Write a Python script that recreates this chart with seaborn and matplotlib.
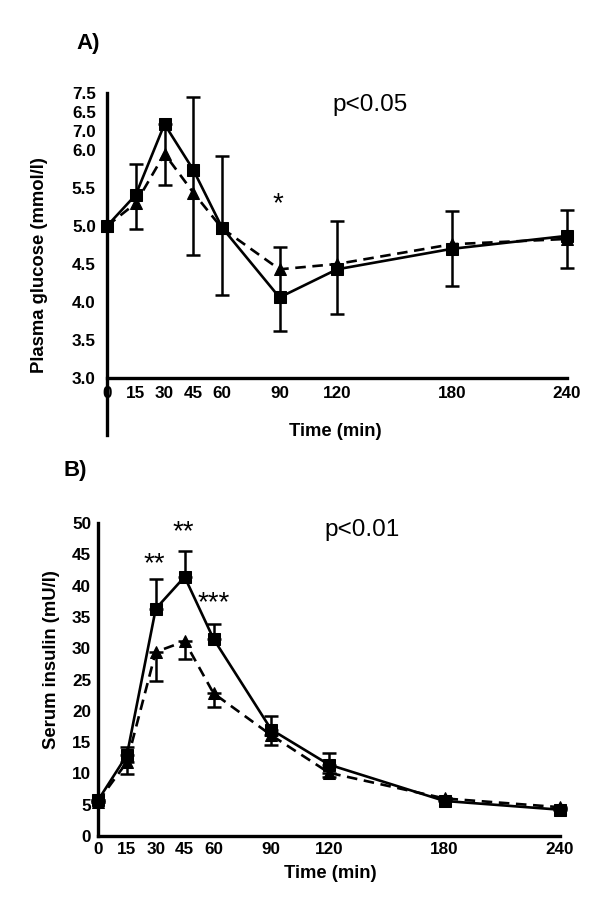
import numpy as np
import pandas as pd
import matplotlib
matplotlib.use("Agg")
import matplotlib.pyplot as plt
import seaborn as sns

sns.set_theme(style="white")
plt.rcParams['font.family'] = ['Liberation Sans', 'DejaVu Sans']
plt.rcParams['text.color'] = 'black'
plt.rcParams['axes.labelcolor'] = 'black'
plt.rcParams['xtick.color'] = 'black'
plt.rcParams['ytick.color'] = 'black'

# ---------------- data ----------------
time = [0, 15, 30, 45, 60, 90, 120, 180, 240]
x_ticks = [0, 15, 30, 45, 60, 90, 120, 180, 240]

# Panel A: plasma glucose (axis coordinates as drawn)
glu_square = [5.00, 5.41, 6.34, 5.74, 4.98, 4.06, 4.43, 4.70, 4.87]
glu_triangle = [5.00, 5.30, 5.95, 5.44, 4.97, 4.43, 4.50, 4.76, 4.83]
glu_bar_lo = [np.nan, 4.96, 5.54, 4.62, 4.09, 3.62, 3.84, 4.21, 4.45]
glu_bar_hi = [np.nan, 5.82, 6.34, 6.70, 5.92, 4.72, 5.07, 5.20, 5.21]
glu_tick_pos = [3.0, 3.5, 4.0, 4.5, 5.0, 5.5, 6.0, 6.25, 6.5, 6.75]
glu_tick_lab = ["3.0", "3.5", "4.0", "4.5", "5.0", "5.5", "6.0", "7.0", "6.5", "7.5"]

# Panel B: serum insulin
ins_square = [5.7, 12.9, 36.3, 41.4, 31.5, 17.0, 11.4, 5.6, 4.2]
ins_triangle = [5.5, 11.8, 29.4, 31.1, 22.8, 16.1, 10.1, 6.0, 4.6]
ins_square_up = [0.0, 1.3, 4.7, 4.1, 2.4, 2.2, 1.8, 0.4, 0.3]
ins_triangle_dn = [0.0, 1.9, 4.6, 2.8, 2.2, 1.6, 0.6, 0.3, 0.3]
ins_ticks = [0, 5, 10, 15, 20, 25, 30, 35, 40, 45, 50]

# ---------------- figure ----------------
W, H = 600, 910
fig = plt.figure(figsize=(6, 9.1), dpi=100)

def px_axes(left, right, top, bottom):
    return fig.add_axes([left / W, 1 - bottom / H, (right - left) / W, (bottom - top) / H])

LW = 2.4
TICK_FS = 12.3
LABEL_FS = 13.3
ax1 = px_axes(107, 567, 93, 435)
ax2 = px_axes(98, 560, 523, 836)

# ---- Panel A ----
dfA = pd.DataFrame({"time": time * 2,
                    "value": glu_square + glu_triangle,
                    "group": ["sq"] * len(time) + ["tri"] * len(time)})
ax1.errorbar(time, [(a + b) / 2 for a, b in zip(glu_bar_lo, glu_bar_hi)],
             yerr=[(b - a) / 2 for a, b in zip(glu_bar_lo, glu_bar_hi)],
             fmt="none", ecolor="black", elinewidth=1.8, capsize=5, capthick=1.8,
             clip_on=False, zorder=2)
sns.lineplot(data=dfA[dfA.group == "tri"], x="time", y="value", ax=ax1, color="black",
             linestyle=(0, (4, 2.5)), linewidth=1.9, marker="^", markersize=8,
             markeredgecolor="black", errorbar=None, clip_on=False, zorder=3)
sns.lineplot(data=dfA[dfA.group == "sq"], x="time", y="value", ax=ax1, color="black",
             linestyle="-", linewidth=1.9, marker="s", markersize=9,
             markeredgecolor="black", errorbar=None, clip_on=False, zorder=4)

ax1.set_xlim(0, 240)
ax1.set_ylim(2.25, 6.75)
ax1.spines["top"].set_visible(False)
ax1.spines["right"].set_visible(False)
ax1.spines["bottom"].set_position(("data", 3.0))
for s in ("left", "bottom"):
    ax1.spines[s].set_linewidth(LW)
    ax1.spines[s].set_color("black")
ax1.set_xticks(x_ticks)
ax1.set_xticklabels([str(t) for t in x_ticks])
ax1.set_yticks(glu_tick_pos)
ax1.set_yticklabels(glu_tick_lab)
ax1.tick_params(axis="x", direction="in", length=7, width=LW, pad=6, labelsize=TICK_FS)
ax1.tick_params(axis="y", direction="inout", length=10, width=LW, pad=3, labelsize=TICK_FS)
for lab in ax1.get_xticklabels() + ax1.get_yticklabels():
    lab.set_fontweight("bold")
ax1.set_xlabel("Time (min)", fontsize=LABEL_FS, fontweight="bold")
ax1.xaxis.set_label_coords((335 - 107) / 460, 1 - (423 - 93) / 342)
ax1.set_ylabel("Plasma glucose (mmol/l)", fontsize=LABEL_FS, fontweight="bold")
ax1.yaxis.set_label_coords((48 - 107) / 460, 1 - (265 - 93) / 342)
ax1.grid(False)

fig.text(88 / W, 1 - 44 / H, "A)", fontsize=16, fontweight="bold", ha="center", va="center")
fig.text(370 / W, 1 - 105 / H, "p<0.05", fontsize=17.5, ha="center", va="center")
fig.text(278 / W, 1 - 204 / H, "*", fontsize=20, ha="center", va="center")

# ---- Panel B ----
dfB = pd.DataFrame({"time": time * 2,
                    "value": ins_square + ins_triangle,
                    "group": ["sq"] * len(time) + ["tri"] * len(time)})
ax2.errorbar(time, ins_square, yerr=[[0] * len(time), ins_square_up], fmt="none",
             ecolor="black", elinewidth=1.8, capsize=5, capthick=1.8, clip_on=False, zorder=2)
ax2.errorbar(time, ins_triangle, yerr=[ins_triangle_dn, [0] * len(time)], fmt="none",
             ecolor="black", elinewidth=1.8, capsize=5, capthick=1.8, clip_on=False, zorder=2)
sns.lineplot(data=dfB[dfB.group == "tri"], x="time", y="value", ax=ax2, color="black",
             linestyle=(0, (4, 2.5)), linewidth=1.9, marker="^", markersize=8,
             markeredgecolor="black", errorbar=None, clip_on=False, zorder=3)
sns.lineplot(data=dfB[dfB.group == "sq"], x="time", y="value", ax=ax2, color="black",
             linestyle="-", linewidth=1.9, marker="s", markersize=9,
             markeredgecolor="black", errorbar=None, clip_on=False, zorder=4)

ax2.set_xlim(0, 240)
ax2.set_ylim(0, 50)
ax2.spines["top"].set_visible(False)
ax2.spines["right"].set_visible(False)
for s in ("left", "bottom"):
    ax2.spines[s].set_linewidth(LW)
    ax2.spines[s].set_color("black")
ax2.set_xticks(x_ticks)
ax2.set_xticklabels([str(t) for t in x_ticks])
ax2.set_yticks(ins_ticks)
ax2.set_yticklabels([str(t) for t in ins_ticks])
ax2.tick_params(axis="x", direction="in", length=7, width=LW, pad=4, labelsize=TICK_FS)
ax2.tick_params(axis="y", direction="in", length=6, width=LW, pad=5, labelsize=TICK_FS)
for lab in ax2.get_xticklabels() + ax2.get_yticklabels():
    lab.set_fontweight("bold")
ax2.set_xlabel("Time (min)", fontsize=LABEL_FS, fontweight="bold")
ax2.xaxis.set_label_coords((330 - 98) / 462, 1 - (865 - 523) / 313)
ax2.set_ylabel("Serum insulin (mU/l)", fontsize=LABEL_FS, fontweight="bold")
ax2.yaxis.set_label_coords((60 - 98) / 462, 1 - (660 - 523) / 313)
ax2.grid(False)

fig.text(75 / W, 1 - 470 / H, "B)", fontsize=16, fontweight="bold", ha="center", va="center")
fig.text(362 / W, 1 - 530 / H, "p<0.01", fontsize=17.5, ha="center", va="center")
fig.text(154 / W, 1 - 564 / H, "**", fontsize=20, ha="center", va="center")
fig.text(183 / W, 1 - 532 / H, "**", fontsize=20, ha="center", va="center")
fig.text(214 / W, 1 - 603 / H, "***", fontsize=20, ha="center", va="center")

fig.savefig("out.png", dpi=100, facecolor="white")
